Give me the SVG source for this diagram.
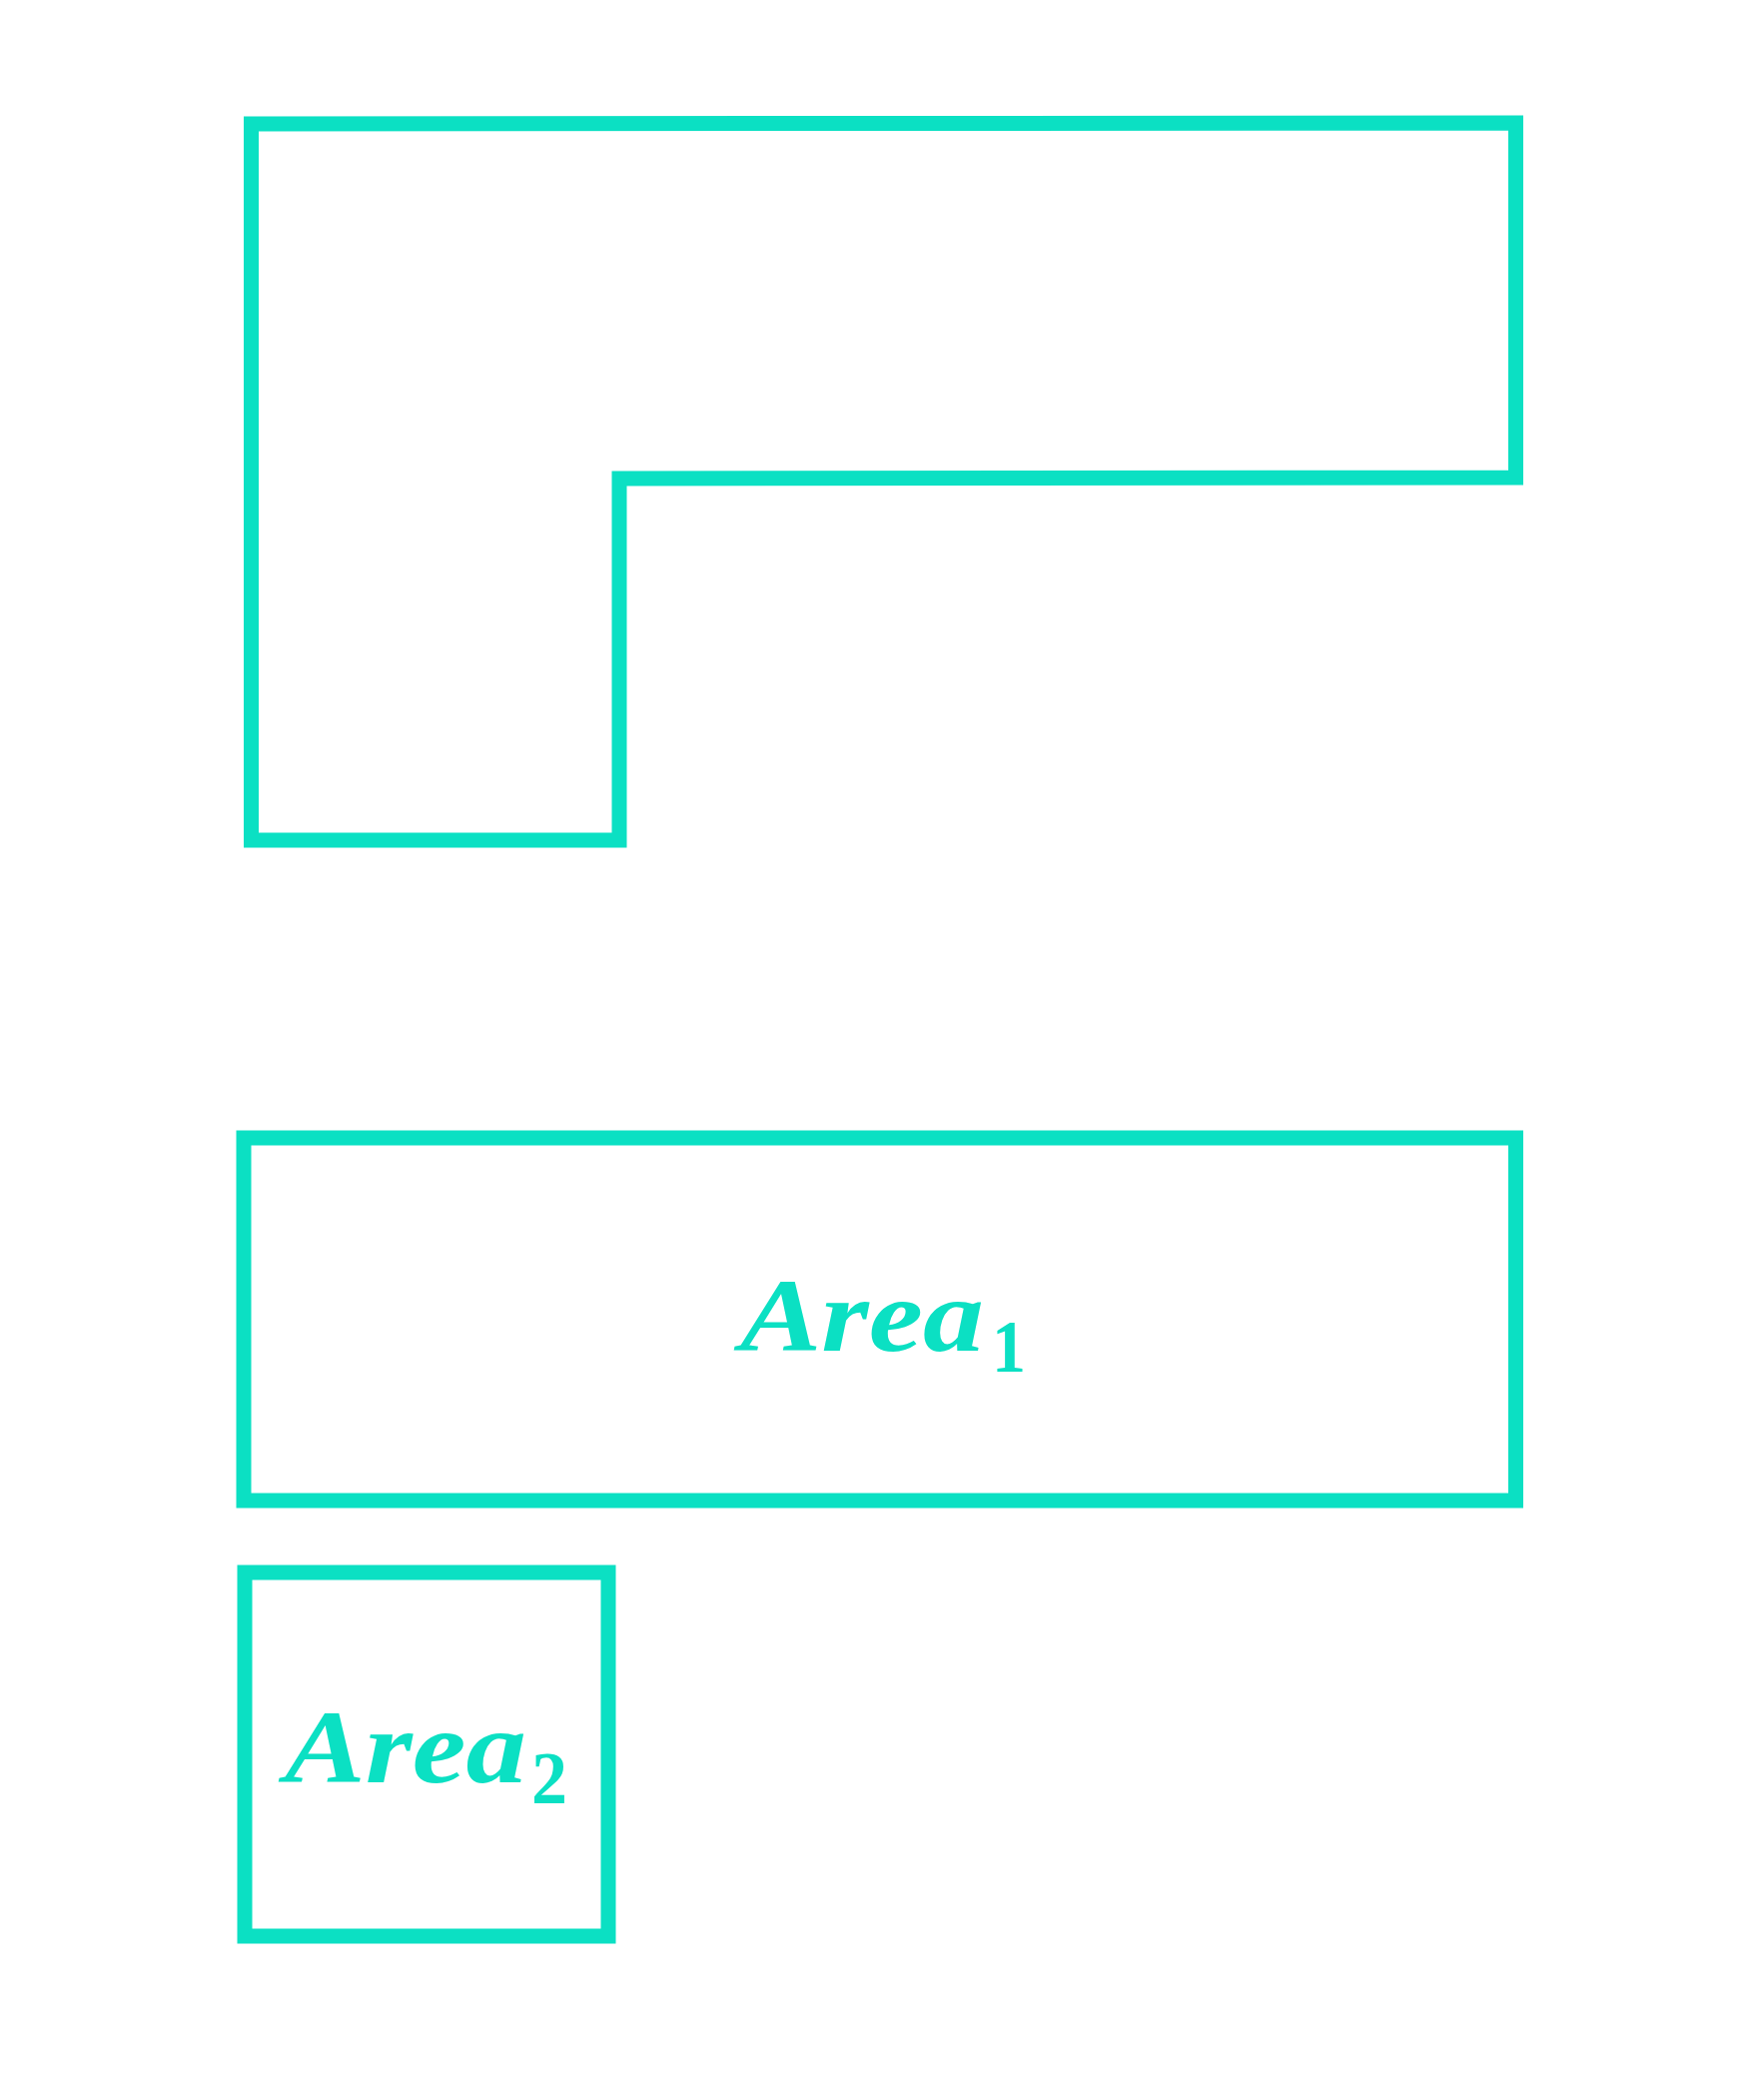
<svg xmlns="http://www.w3.org/2000/svg" width="1766" height="2077" viewBox="0 0 1766 2077">
<style>
.shape{fill:none;stroke:#0BE0C3;stroke-width:15;stroke-linejoin:miter}
.lbl{font-family:"Liberation Serif","DejaVu Serif",serif;font-style:italic;font-weight:bold;fill:#0BE0C3}
.main{font-size:104px}
.sub{font-size:75px;font-style:normal}
</style>
<rect width="1766" height="2077" fill="#ffffff"/>
<g id="lshape">
<path class="shape" d="M251.5,841 L251.5,124 L1517.5,123 L1517.5,478 L620,479 L620,841 Z"/>
</g>
<g id="area1">
<rect class="shape" x="244" y="1139" width="1273.5" height="363"/>
<text class="lbl main" x="741" y="1352" textLength="244" lengthAdjust="spacingAndGlyphs">Area</text>
<text class="lbl sub" x="993" y="1373" textLength="34" lengthAdjust="spacingAndGlyphs">1</text>
</g>
<g id="area2">
<rect class="shape" x="245" y="1574" width="364" height="364"/>
<text class="lbl main" x="285" y="1784" textLength="242" lengthAdjust="spacingAndGlyphs">Area</text>
<text class="lbl sub" x="532" y="1805" textLength="36" lengthAdjust="spacingAndGlyphs">2</text>
</g>
<g id="connectors"></g>
</svg>
